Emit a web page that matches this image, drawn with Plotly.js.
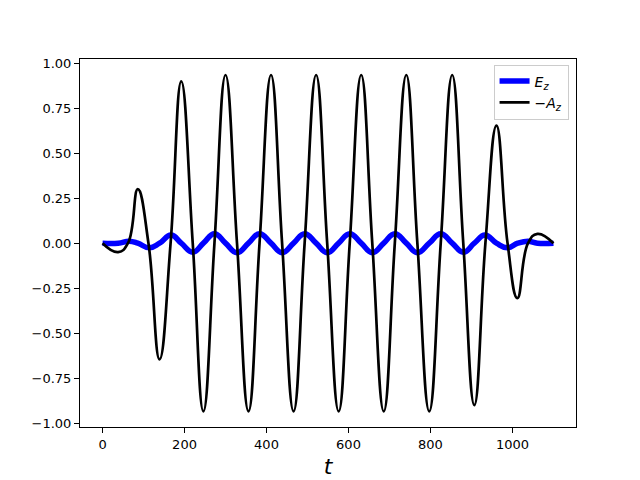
<!DOCTYPE html>
<html>
<head>
<meta charset="utf-8">
<script src="https://cdn.plot.ly/plotly-3.0.1.min.js"></script>
<style>
  body { margin: 0; }
  #chart { width: 640px; height: 480px; }
</style>
</head>
<body>
<div id="chart"></div>
<script>
// -A_z : extrema and zero crossings
var tA = [0, 38, 62, 86, 112, 139, 166, 192, 220, 246, 273, 300, 328, 356, 383, 411,
          438, 466, 493, 521, 548, 576, 603, 631, 658, 686, 713, 741, 768, 797, 825,
          853, 880, 907, 934, 961, 988, 1012, 1038, 1061, 1100];
var negAz = [0, -0.05, 0, 0.30, 0, -0.646, 0, 0.90, 0, -0.935, 0, 0.935, 0, -0.935, 0, 0.935,
             0, -0.935, 0, 0.935, 0, -0.935, 0, 0.935, 0, -0.935, 0, 0.935, 0, -0.935, 0,
             0.935, 0, -0.90, 0, 0.654, 0, -0.305, 0, 0.052, 0];

// E_z
var tE = [0, 38, 65, 86, 114, 139, 167, 192, 220, 246, 273, 300, 328, 356, 383, 411,
          438, 466, 493, 521, 548, 576, 603, 631, 658, 686, 713, 741, 768, 797, 825,
          853, 880, 907, 933, 961, 988, 1013, 1038, 1061, 1100];
var Ez = [0, 0, 0.011, 0, -0.026, 0, 0.045, 0, -0.050, 0, 0.053, 0, -0.053, 0, 0.053, 0,
          -0.053, 0, 0.053, 0, -0.053, 0, 0.053, 0, -0.053, 0, 0.053, 0, -0.053, 0, 0.053,
          0, -0.050, 0, 0.045, 0, -0.026, 0, 0.011, 0, 0];

var xTicks = [0, 200, 400, 600, 800, 1000];
var yTicks = [-1.0, -0.75, -0.5, -0.25, 0.0, 0.25, 0.5, 0.75, 1.0];

var data = [
    {
        x: tE, y: Ez,
        type: 'scatter', mode: 'lines',
        line: {color: '#0000ff', width: 5.5, shape: 'spline', smoothing: 1.3},
        name: '<i>E</i><sub><i>z</i></sub>'
    },
    {
        x: tA, y: negAz,
        type: 'scatter', mode: 'lines',
        line: {color: '#000000', width: 2.7, shape: 'spline', smoothing: 1.3},
        name: '\u2212<i>A</i><sub><i>z</i></sub>'
    }
];

var axisStyle = {
    showline: true, mirror: true, linecolor: '#000', linewidth: 1,
    ticks: 'outside', ticklen: 5, tickwidth: 1, tickcolor: '#000',
    showgrid: false, zeroline: false,
    tickfont: {family: 'DejaVu Sans', size: 13, color: '#000'}
};

var layout = {
    width: 640, height: 480,
    margin: {l: 80, r: 64, t: 59, b: 53},
    paper_bgcolor: '#fff', plot_bgcolor: '#fff',
    font: {family: 'DejaVu Sans', color: '#000'},
    xaxis: Object.assign({}, axisStyle, {
        range: [-55, 1155],
        tickvals: xTicks,
        ticktext: xTicks.map(String),
        title: {text: '<i>t</i>', font: {family: 'DejaVu Sans', size: 22}, standoff: 8}
    }),
    yaxis: Object.assign({}, axisStyle, {
        range: [-1.022, 1.024],
        tickvals: yTicks,
        ticktext: yTicks.map(function (v) { return v.toFixed(2).replace('-', '\u2212'); })
    }),
    showlegend: true,
    legend: {
        x: 0.985, y: 0.985, xanchor: 'right', yanchor: 'top',
        bgcolor: 'rgba(255,255,255,0.8)', bordercolor: '#cccccc', borderwidth: 1,
        font: {family: 'DejaVu Sans', size: 14}
    }
};

Plotly.newPlot('chart', data, layout, {displayModeBar: false, staticPlot: true});
</script>
</body>
</html>
